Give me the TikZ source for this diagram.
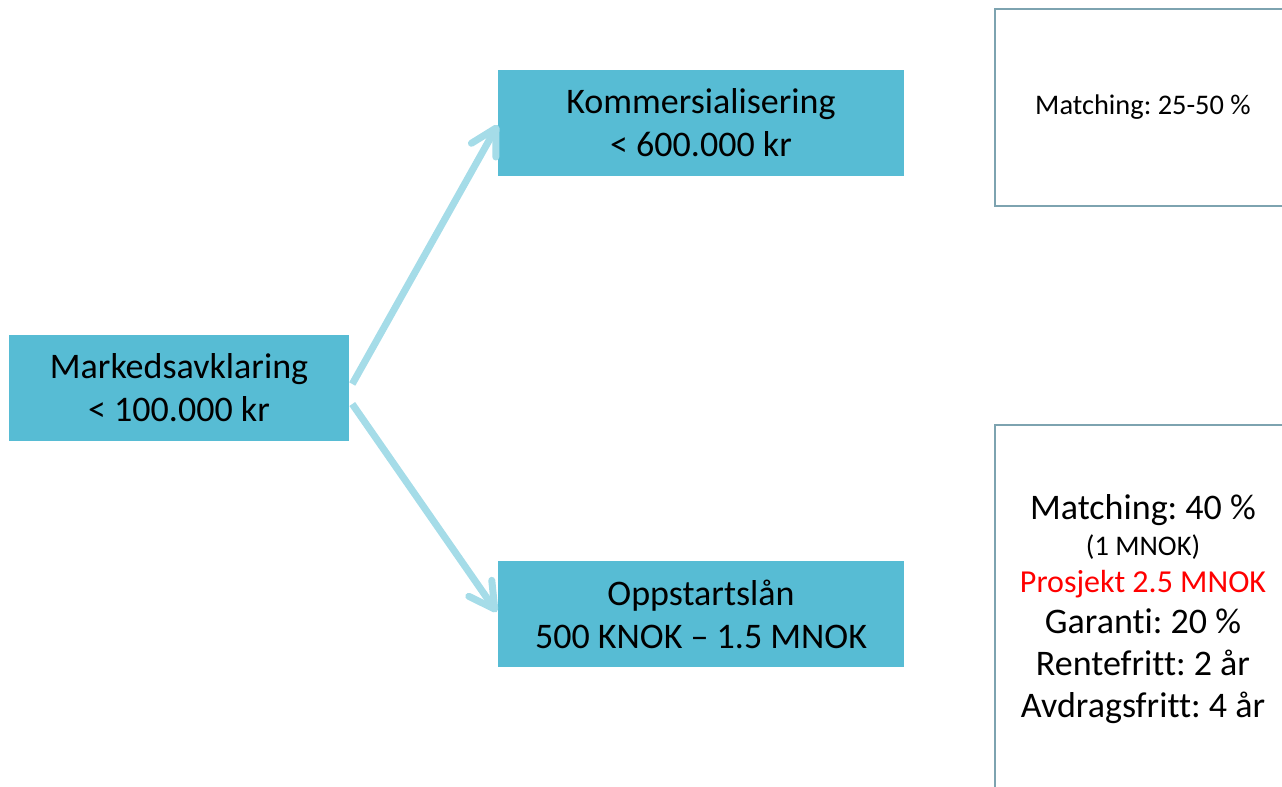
\documentclass[tikz,border=0pt]{standalone}
\usepackage{fontspec}
\setmainfont{Carlito}[Ligatures=NoCommon]
\usetikzlibrary{arrows.meta}
\definecolor{boxfill}{RGB}{87,188,212}
\definecolor{arrowc}{RGB}{165,220,232}
\definecolor{framec}{RGB}{125,163,176}
\definecolor{redtxt}{RGB}{255,0,0}
\newcommand{\bigtxt}{\fontsize{27}{32.25}\selectfont}
\frenchspacing
\begin{document}
\begin{tikzpicture}[x=0.75pt,y=-0.75pt,
  stage/.style={fill=boxfill, inner sep=0pt, align=center, font=\bigtxt, minimum height=79.5pt},
  infobox/.style={draw=framec, line width=1.5pt, fill=white, inner sep=0pt, align=center, minimum width=222pt},
  arr/.style={draw=arrowc, line width=5.25pt, -{Straight Barb[length=19pt, width=21pt, round]}}
]
\useasboundingbox (0,0) rectangle (1282,786);
\clip (0,0) rectangle (1282,786);
\node[stage, minimum width=255pt] (m) at (179,388) {Markedsavklaring\\< 100.000 kr};
\node[stage, minimum width=304.5pt] (k) at (701,123) {Kommersialisering\\< 600.000 kr};
\node[stage, minimum width=304.5pt] (o) at (701,614) {Oppstartslån\\500 KNOK – 1.5 MNOK};
\node[infobox, minimum height=147.75pt, font=\fontsize{21.3}{25}\selectfont] (i1) at (1143,107.5) {Matching: 25-50 \%};
\node[infobox, minimum height=276pt, font=\fontsize{27}{31.5}\selectfont] (i2) at (1143,609) {%
  Matching: 40 \%\\[-4.9pt]
  {\fontsize{21.3}{31.5}\selectfont (1 MNOK)}\\[-3.6pt]
  {\fontsize{24}{31.5}\selectfont \textcolor{redtxt}{Prosjekt 2.5 MNOK}}\\[-1pt]
  Garanti: 20 \%\\
  Rentefritt: 2 år\\
  Avdragsfritt: 4 år};
\draw[arr] ([shift={(3,-4)}]m.east) -- ([shift={(0,2)}]k.west);
\draw[arr] ([shift={(3,16)}]m.east) -- ([shift={(-1,-2)}]o.west);
\end{tikzpicture}
\end{document}
